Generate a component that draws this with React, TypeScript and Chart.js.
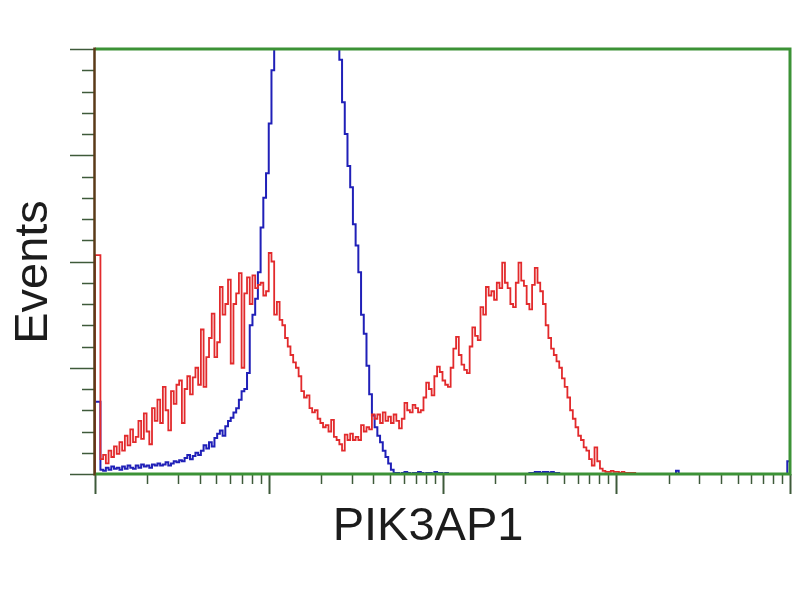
import { useEffect, useRef } from "react";
import { Chart, registerables } from "chart.js";

Chart.register(...registerables);

// ---- data ----
const BIN_WIDTH = 4; // channels per histogram bin
const CHANNELS = 1024; // 4 log decades, 256 channels per decade
const DECADE_VALUES = [1, 10, 100, 1000, 10000];
const MINOR_MULTIPLIERS = [2, 3, 4, 5, 6, 7, 8, 9];
const Y_MAX = 400;
const Y_MAJOR_STEP = 100;
const Y_MINOR_STEP = 20;
const X_TITLE = "PIK3AP1";
const Y_TITLE = "Events";

// counts per bin (4-channel bins from channel 0)
const redCounts = [
  206, 206, 14, 18, 10, 22, 16, 26, 19, 30,
  22, 36, 27, 42, 30, 35, 50, 33, 57, 40,
  28, 62, 50, 70, 48, 82, 60, 41, 78, 66,
  84, 88, 48, 80, 92, 75, 91, 100, 84, 136,
  82, 110, 128, 151, 110, 124, 176, 150, 160, 183,
  104, 160, 170, 189, 100, 170, 185, 160, 187, 175,
  178, 180, 168, 172, 208, 200, 150, 162, 145, 140,
  128, 120, 112, 105, 100, 92, 78, 72, 74, 62,
  58, 60, 52, 48, 44, 46, 40, 51, 35, 32,
  28, 22, 37, 32, 38, 32, 35, 32, 46, 40,
  44, 42, 56, 52, 56, 48, 58, 50, 54, 48,
  56, 50, 43, 52, 67, 60, 58, 65, 62, 58,
  60, 72, 86, 80, 74, 92, 101, 96, 88, 84,
  82, 100, 118, 129, 112, 103, 98, 95, 120, 138,
  130, 126, 157, 150, 176, 168, 172, 164, 180, 175,
  199, 180, 175, 160, 157, 180, 199, 182, 177, 160,
  155, 178, 194, 180, 172, 160, 140, 128, 118, 112,
  106, 100, 90, 82, 72, 60, 52, 44, 36, 32,
  25, 22, 14, 8, 25, 12, 5, 3, 2, 2,
  3, 2, 2, 1, 2, 1, 1, 1, 1, 0,
];

const blueCounts = [
  68, 68, 4, 3, 6, 4, 7, 5, 6, 4,
  7, 5, 8, 6, 5, 8, 6, 9, 7, 8,
  6, 9, 8, 10, 8, 9, 11, 8, 10, 12,
  11, 13, 12, 15, 18, 14, 17, 20, 18, 22,
  27, 24, 30, 26, 34, 38, 41, 36, 45, 50,
  53, 58, 62, 70, 78, 80, 95, 140, 150, 165,
  190, 232, 260, 283, 330, 380, 440, 480, 510, 540,
  560, 580, 595, 605, 612, 618, 620, 622, 618, 615,
  610, 600, 590, 575, 560, 540, 510, 470, 440, 410,
  390, 350, 320, 290, 270, 235, 215, 190, 150, 132,
  102, 75, 55, 44, 36, 30, 22, 16, 10, 4,
  1, 1, 0, 1, 2, 1, 0, 1, 1, 2,
  1, 0, 1, 1, 0, 2, 1, 1, 0, 1,
  0, 0, 0, 0, 0, 0, 0, 0, 0, 0,
  0, 0, 0, 0, 0, 0, 0, 0, 0, 0,
  0, 0, 0, 0, 0, 0, 0, 0, 0, 0,
  1, 1, 2, 2, 1, 2, 2, 1, 2, 1,
  1, 0, 0, 0, 0, 0, 0, 0, 0, 0,
  0, 0, 0, 0, 0, 0, 0, 0, 0, 0,
  0, 0, 0, 0, 0, 0, 0, 0, 0, 0,
  0, 0, 0, 0, 0, 0, 0, 0, 0, 0,
  0, 0, 0, 0, 3, 0, 0, 0, 0, 0,
  0, 0, 0, 0, 0, 0, 0, 0, 0, 0,
  0, 0, 0, 0, 0, 0, 0, 0, 0, 0,
  0, 0, 0, 0, 0, 0, 0, 0, 0, 0,
  0, 0, 0, 0, 0, 12,
];

// ---- styles ----
const RED = "#e22a2c";
const BLUE = "#2020b8";
const FRAME_GREEN = "#3c9236";
const LEFT_AXIS = "#5a3a18";
const TICK_COLOR = "#3e5a3a";
const TEXT_COLOR = "#1c1c1c";
const FONT = '"Liberation Sans", Arial, Helvetica, sans-serif';

// each count is placed at the end of its bin; stepped "after" draws the
// vertical edge at the bin start, then the flat top across the bin
function toSteps(counts: number[]) {
  const pts = [{ x: 0, y: 0 }];
  counts.forEach((v, i) => pts.push({ x: (i + 1) * BIN_WIDTH, y: v }));
  return pts;
}

const framePlugin = {
  id: "facsFrame",
  afterDatasetsDraw(chart: any) {
    const { ctx, chartArea: a, scales } = chart;
    const xs = scales.x;
    const ys = scales.y;
    ctx.save();

    // y ticks
    ctx.strokeStyle = TICK_COLOR;
    ctx.lineWidth = 1.5;
    for (let v = 0; v <= Y_MAX; v += Y_MINOR_STEP) {
      const py = Math.round(ys.getPixelForValue(v)) + 0.5;
      const major = v % Y_MAJOR_STEP === 0;
      ctx.beginPath();
      ctx.moveTo(a.left - (major ? 25 : 13), py);
      ctx.lineTo(a.left, py);
      ctx.stroke();
    }

    // x ticks (log decades)
    const perDecade = CHANNELS / (DECADE_VALUES.length - 1);
    DECADE_VALUES.forEach((dv, d) => {
      const ch = perDecade * Math.log10(dv);
      const px = Math.round(xs.getPixelForValue(ch)) + 0.5;
      ctx.lineWidth = 2;
      ctx.beginPath();
      ctx.moveTo(px, a.bottom);
      ctx.lineTo(px, a.bottom + 20);
      ctx.stroke();
      if (d < DECADE_VALUES.length - 1) {
        MINOR_MULTIPLIERS.forEach((m) => {
          const c = perDecade * Math.log10(dv * m);
          const mx = Math.round(xs.getPixelForValue(c)) + 0.5;
          ctx.lineWidth = 1.5;
          ctx.beginPath();
          ctx.moveTo(mx, a.bottom);
          ctx.lineTo(mx, a.bottom + 10);
          ctx.stroke();
        });
      }
    });

    // frame
    ctx.lineWidth = 3;
    ctx.strokeStyle = FRAME_GREEN;
    ctx.beginPath();
    ctx.moveTo(a.left, a.top);
    ctx.lineTo(a.right, a.top);
    ctx.lineTo(a.right, a.bottom);
    ctx.lineTo(a.left, a.bottom);
    ctx.stroke();
    ctx.strokeStyle = LEFT_AXIS;
    ctx.lineWidth = 2.5;
    ctx.beginPath();
    ctx.moveTo(a.left - 0.5, a.top - 1.5);
    ctx.lineTo(a.left - 0.5, a.bottom + 1.5);
    ctx.stroke();

    // titles
    ctx.fillStyle = TEXT_COLOR;
    ctx.font = `47px ${FONT}`;
    ctx.textAlign = "center";
    ctx.textBaseline = "alphabetic";
    ctx.fillText(X_TITLE, 428, 540);
    ctx.translate(47, 272);
    ctx.rotate(-Math.PI / 2);
    ctx.fillText(Y_TITLE, 0, 0);
    ctx.restore();
  },
};

export default function App() {
  const ref = useRef<HTMLCanvasElement | null>(null);
  useEffect(() => {
    if (!ref.current) return;
    const chart = new Chart(ref.current, {
      type: "line",
      data: {
        datasets: [
          {
            data: toSteps(redCounts),
            borderColor: RED,
            borderWidth: 1.8,
            stepped: "after",
            pointRadius: 0,
            fill: false,
          },
          {
            data: toSteps(blueCounts),
            borderColor: BLUE,
            borderWidth: 2,
            stepped: "after",
            pointRadius: 0,
            fill: false,
          },
        ],
      },
      options: {
        animation: false,
        responsive: false,
        devicePixelRatio: 1,
        layout: { padding: { left: 95, right: 10, top: 49, bottom: 126 } },
        plugins: { legend: { display: false }, tooltip: { enabled: false } },
        scales: {
          x: { type: "linear", min: 0, max: CHANNELS, display: false },
          y: { type: "linear", min: 0, max: Y_MAX, display: false },
        },
      },
      plugins: [framePlugin],
    });
    return () => chart.destroy();
  }, []);
  return (
    <div style={{ position: "fixed", left: 0, top: 0, width: 800, height: 600, background: "#fff" }}>
      <canvas ref={ref} width={800} height={600} />
    </div>
  );
}
